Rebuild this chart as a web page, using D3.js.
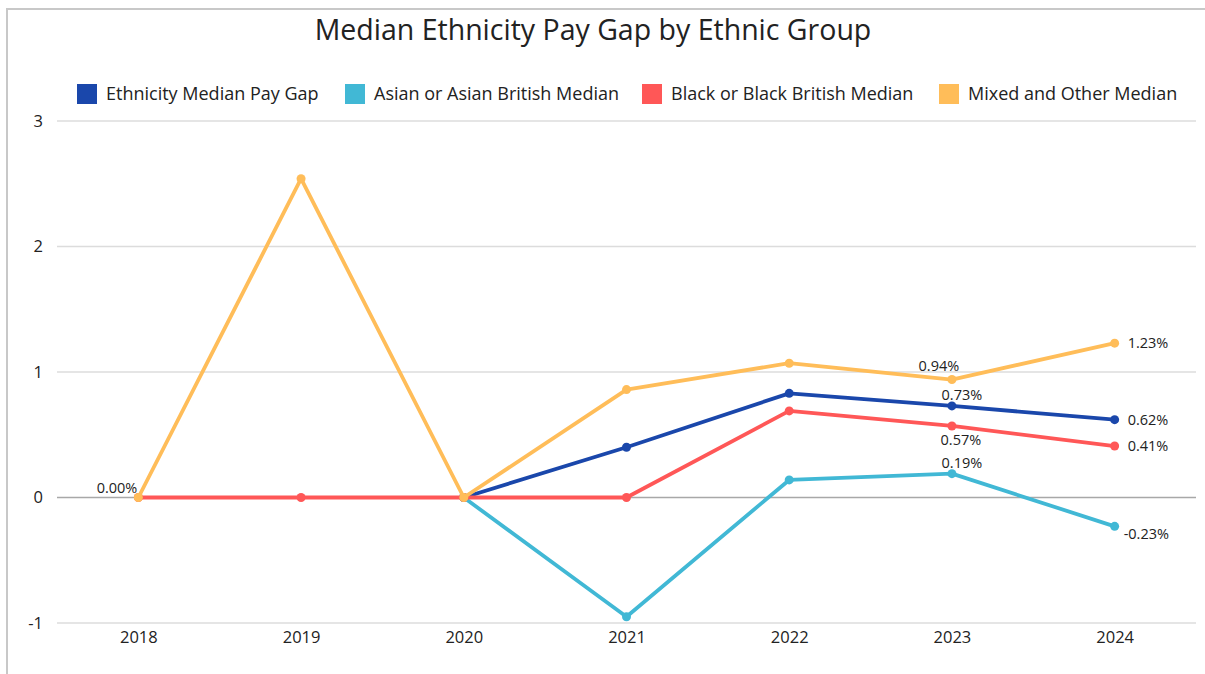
<!DOCTYPE html>
<html>
<head>
<meta charset="utf-8">
<script src="https://cdn.jsdelivr.net/npm/d3@7"></script>
<style>
  body { margin: 0; background: #fff; }
  text { font-family: "Open Sans", "Noto Sans", sans-serif; fill: #222; }
</style>
</head>
<body>
<div id="chart"></div>
<script>
/* Median ethnicity pay gap line chart */

const years = ["2018", "2019", "2020", "2021", "2022", "2023", "2024"];
const seriesNames = ["Ethnicity Median Pay Gap", "Asian or Asian British Median",
                     "Black or Black British Median", "Mixed and Other Median"];
const overall = [null, null, 0, 0.40, 0.83, 0.73, 0.62];
const asian   = [null, null, 0, -0.95, 0.14, 0.19, -0.23];
const black   = [0, 0, 0, 0, 0.69, 0.57, 0.41];
const mixed   = [0, 2.54, 0, 0.86, 1.07, 0.94, 1.23];
const yTicks = [-1, 0, 1, 2, 3];
// which points carry a value label: [series index, year, placement]
const pointLabels = [
    [3, "2018", "left"],
    [3, "2023", "aboveLeft"], [3, "2024", "right"],
    [0, "2023", "above"], [0, "2024", "right"],
    [2, "2023", "below"], [2, "2024", "right"],
    [1, "2023", "above"], [1, "2024", "rightLow"]
];

const colors = ["#1a47ab", "#41b8d5", "#ff5757", "#ffbd59"];
const allValues = [overall, asian, black, mixed];

const width = 1205, height = 674,
      margin = ({top: 121, right: 9, bottom: 51, left: 57});

let svg = d3.select("#chart")
            .append("svg")
            .attr("width", width)
            .attr("height", height);

// frame
svg.append("path")
    .attr("d", `M7,${height} V9 H${width}`)
    .attr("fill", "none")
    .attr("stroke", "#c8c8c8")
    .attr("stroke-width", 2);

svg.append("text")
    .attr("x", 593)
    .attr("y", 40)
    .attr("text-anchor", "middle")
    .style("font-size", "28.5px")
    .text("Median Ethnicity Pay Gap by Ethnic Group");

const x = d3.scalePoint()
            .domain(years)
            .range([margin.left, width - margin.right])
            .padding(0.5);

const y = d3.scaleLinear()
            .domain([-1, 3])
            .range([height - margin.bottom, margin.top]);

// gridlines
svg.append("g")
    .selectAll("line")
    .data(yTicks)
    .join("line")
    .attr("x1", margin.left)
    .attr("x2", width - margin.right)
    .attr("y1", d => y(d))
    .attr("y2", d => y(d))
    .attr("stroke", d => d === 0 ? "#a8a8a8" : "#dcdcdc")
    .attr("stroke-width", 1.3);

const yAxis = g => g
    .attr("transform", `translate(${margin.left - 11},0)`)
    .call(d3.axisLeft(y).tickValues(yTicks).tickSize(0).tickFormat(d => String(d)))
    .call(g => g.select(".domain").remove())
    .call(g => g.selectAll("text").style("font-size", "16.5px").attr("fill", "#222"));

const xAxis = g => g
    .attr("transform", `translate(0,${height - margin.bottom + 5})`)
    .call(d3.axisBottom(x).tickSize(0))
    .call(g => g.select(".domain").remove())
    .call(g => g.selectAll("text").style("font-size", "16.5px").attr("fill", "#222"));

svg.append("g").call(yAxis);
svg.append("g").call(xAxis);

const line = d3.line()
    .defined(d => d.v !== null)
    .x(d => x(d.year))
    .y(d => y(d.v));

const series = allValues.map((vals, i) => ({
    name: seriesNames[i],
    color: colors[i],
    points: vals.map((v, j) => ({year: years[j], v: v}))
}));

let s = svg.selectAll(".series")
    .data(series)
    .join("g")
    .attr("class", "series");

s.append("path")
    .attr("fill", "none")
    .attr("stroke", d => d.color)
    .attr("stroke-width", 3.8)
    .attr("stroke-linejoin", "round")
    .attr("d", d => line(d.points));

s.selectAll("circle")
    .data(d => d.points.filter(p => p.v !== null).map(p => ({...p, color: d.color})))
    .join("circle")
    .attr("cx", d => x(d.year))
    .attr("cy", d => y(d.v))
    .attr("r", 4.5)
    .attr("fill", d => d.color);

// value labels
const placement = {
    left:      {dx: -1,  dy: -5,  anchor: "end"},
    above:     {dx: 10,  dy: -6,  anchor: "middle"},
    aboveLeft: {dx: -13, dy: -9,  anchor: "middle"},
    below:     {dx: 9,   dy: 19,  anchor: "middle"},
    right:     {dx: 13,  dy: 5,   anchor: "start"},
    rightLow:  {dx: 9,   dy: 13,  anchor: "start"}
};
const fmt = d3.format(".2f");

svg.append("g")
    .selectAll("text")
    .data(pointLabels)
    .join("text")
    .attr("x", d => x(d[1]) + placement[d[2]].dx)
    .attr("y", d => y(allValues[d[0]][years.indexOf(d[1])]) + placement[d[2]].dy)
    .attr("text-anchor", d => placement[d[2]].anchor)
    .style("font-size", "14.5px")
    .text(d => fmt(allValues[d[0]][years.indexOf(d[1])]).replace("\u2212", "-") + "%");

// legend
const legendX = [77, 345, 642, 939];
let lg = svg.append("g")
    .selectAll("g")
    .data(seriesNames)
    .join("g")
    .attr("transform", (d, i) => `translate(${legendX[i]},84)`);

lg.append("rect")
    .attr("width", 20)
    .attr("height", 20)
    .attr("fill", (d, i) => colors[i]);

lg.append("text")
    .attr("x", 29)
    .attr("y", 16)
    .style("font-size", "18px")
    .text(d => d);
</script>
</body>
</html>
